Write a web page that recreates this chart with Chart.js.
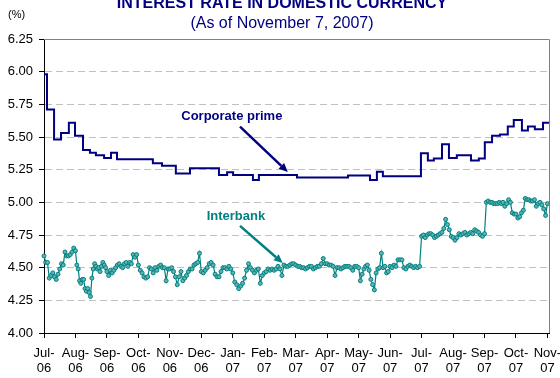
<!DOCTYPE html>
<html>
<head>
<meta charset="utf-8">
<script src="https://cdn.jsdelivr.net/npm/chart.js@4.4.0/dist/chart.umd.min.js"></script>
<style>
  body { margin: 0; background: #fff; }
  #wrap { position: relative; width: 560px; height: 378px; overflow: hidden; font-family: "Liberation Sans", Arial, sans-serif; }
  #wrap canvas { position: absolute; left: 0; top: 0; }
  .title { position: absolute; left: 0; width: 564px; text-align: center; color: #000080; line-height: 1; white-space: nowrap; }
  #mainTitle { top: -5.5px; font-size: 16px; font-weight: bold; }
  #subTitle { top: 15px; font-size: 16px; }
  #unit { position: absolute; left: 8px; top: 9px; font-size: 11px; line-height: 1; color: #000; }
</style>
</head>
<body>
<div id="wrap">
  <canvas id="rateChart" width="560" height="378"></canvas>
  <div class="title" id="mainTitle">INTEREST RATE IN DOMESTIC CURRENCY</div>
  <div class="title" id="subTitle">(As of November 7, 2007)</div>
  <div id="unit">(%)</div>
</div>
<script>
// ===== DATA =====
const monthLabels = ["Jul-06", "Aug-06", "Sep-06", "Oct-06", "Nov-06", "Dec-06", "Jan-07", "Feb-07",
    "Mar-07", "Apr-07", "May-07", "Jun-07", "Jul-07", "Aug-07", "Sep-07", "Oct-07", "Nov-07"];

const yTicks = [4.00, 4.25, 4.50, 4.75, 5.00, 5.25, 5.50, 5.75, 6.00, 6.25];

// corporate prime: months since Jul-06 at which the rate changes, and the new rate
const primeMonths = [0, 0.095, 0.32, 0.54, 0.79, 0.985, 1.24, 1.46, 1.65, 1.91, 2.13, 2.32,
    3.46, 3.75, 4.19, 4.64, 5.56, 5.82, 6.01, 6.64, 6.83, 8.04, 9.66, 10.36, 10.58, 10.77,
    11.98, 12.20, 12.39, 12.65, 12.87, 13.12, 13.57, 13.82, 14.01, 14.24, 14.49, 14.74,
    14.93, 15.19, 15.38, 15.60, 15.86, 16.05];
const primeRates = [5.98, 5.71, 5.48, 5.53, 5.61, 5.51, 5.40, 5.38, 5.36, 5.34, 5.38, 5.33,
    5.30, 5.28, 5.22, 5.26, 5.21, 5.23, 5.21, 5.17, 5.21, 5.19, 5.205, 5.17, 5.235, 5.20,
    5.375, 5.32, 5.335, 5.445, 5.34, 5.36, 5.32, 5.335, 5.46, 5.51, 5.52, 5.58,
    5.63, 5.55, 5.58, 5.56, 5.61, 5.61];

// interbank: daily observations, one list per month (Jul-06 .. Nov-07)
const interbankByMonth = [
    [4.59, 4.54, 4.54, 4.42, 4.44, 4.46, 4.43, 4.41, 4.45, 4.49, 4.53, 4.52, 4.62, 4.59, 4.59, 4.60, 4.62, 4.65],
    [4.63, 4.52, 4.49, 4.40, 4.38, 4.41, 4.41, 4.34, 4.32, 4.34, 4.31, 4.28, 4.42, 4.49, 4.53, 4.51, 4.49, 4.50, 4.47, 4.51, 4.54, 4.52, 4.50],
    [4.47, 4.44, 4.48, 4.46, 4.48, 4.50, 4.52, 4.53, 4.51, 4.50, 4.53, 4.54, 4.51, 4.54, 4.53, 4.60, 4.58, 4.60],
    [4.52, 4.48, 4.46, 4.43, 4.42, 4.43, 4.50, 4.49, 4.46, 4.50, 4.48, 4.51, 4.52, 4.50, 4.50, 4.40, 4.49],
    [4.49, 4.50, 4.47, 4.43, 4.37, 4.43, 4.47, 4.40, 4.42, 4.44, 4.47, 4.49, 4.49, 4.52, 4.53, 4.54, 4.61],
    [4.47, 4.46, 4.48, 4.50, 4.53, 4.54, 4.52, 4.45, 4.43, 4.43, 4.47, 4.50, 4.50, 4.49, 4.51, 4.49],
    [4.46, 4.39, 4.37, 4.34, 4.36, 4.38, 4.42, 4.48, 4.53, 4.50, 4.48, 4.46, 4.48, 4.49, 4.38, 4.44],
    [4.46, 4.47, 4.49, 4.48, 4.49, 4.48, 4.49, 4.51, 4.49, 4.44, 4.52, 4.51, 4.51, 4.52, 4.53, 4.53],
    [4.52, 4.51, 4.51, 4.50, 4.50, 4.49, 4.50, 4.51, 4.51, 4.49, 4.50, 4.51, 4.51, 4.53, 4.57, 4.53],
    [4.53, 4.52, 4.52, 4.51, 4.44, 4.50, 4.50, 4.49, 4.50, 4.51, 4.51, 4.51, 4.50, 4.48, 4.51, 4.51],
    [4.50, 4.40, 4.45, 4.49, 4.51, 4.52, 4.48, 4.41, 4.37, 4.33, 4.46, 4.49, 4.50, 4.61, 4.50, 4.51, 4.46, 4.47],
    [4.51, 4.50, 4.52, 4.51, 4.56, 4.56, 4.56, 4.50, 4.49, 4.51, 4.52, 4.51, 4.50, 4.51, 4.50, 4.51],
    [4.74, 4.75, 4.73, 4.75, 4.76, 4.76, 4.75, 4.73, 4.74, 4.75, 4.76, 4.77, 4.80, 4.87, 4.83, 4.79, 4.74],
    [4.73, 4.71, 4.73, 4.76, 4.75, 4.76, 4.77, 4.75, 4.76, 4.77, 4.76, 4.79, 4.78, 4.77, 4.75, 4.74],
    [4.76, 5.00, 5.01, 5.00, 5.00, 4.99, 4.99, 4.99, 5.00, 4.99, 5.00, 4.97, 4.99, 5.02, 5.00, 4.92, 4.91],
    [4.91, 4.88, 4.89, 4.92, 4.94, 5.03, 5.02, 5.02, 5.01, 5.01, 5.02, 4.97, 4.99, 5.00, 4.98, 4.95, 4.90],
    [4.99]
];

// ===== BUILD POINTS =====
const primePoints = primeMonths.map((m, i) => ({ x: m, y: primeRates[i] }));

// spread each month's observations evenly across that month
const interbankPoints = [];
interbankByMonth.forEach((values, month) => {
    values.forEach((v, i) => {
        interbankPoints.push({ x: month + i / values.length, y: v });
    });
});

// ===== LABELS AND ARROWS (in axis units) =====
const notes = [
    { text: "Corporate prime", color: "#000080", at: [5.97, 5.66], from: [6.23, 5.58], to: [7.75, 5.232] },
    { text: "Interbank", color: "#008080", at: [6.1, 4.89], from: [6.23, 4.82], to: [7.59, 4.535] }
];

const FONT = '"Liberation Sans", Arial, sans-serif';

function drawArrow(ctx, x1, y1, x2, y2, color) {
    const ang = Math.atan2(y2 - y1, x2 - x1);
    const head = 9, half = 4;
    const bx = x2 - head * Math.cos(ang);
    const by = y2 - head * Math.sin(ang);
    ctx.strokeStyle = color;
    ctx.lineWidth = 2.5;
    ctx.beginPath();
    ctx.moveTo(x1, y1);
    ctx.lineTo(bx, by);
    ctx.stroke();
    ctx.fillStyle = color;
    ctx.beginPath();
    ctx.moveTo(x2, y2);
    ctx.lineTo(bx + half * Math.sin(ang), by - half * Math.cos(ang));
    ctx.lineTo(bx - half * Math.sin(ang), by + half * Math.cos(ang));
    ctx.closePath();
    ctx.fill();
}

// grey frame on top and right of the plot area
const framePlugin = {
    id: "frame",
    beforeDatasetsDraw(chart) {
        const { ctx, chartArea: a } = chart;
        ctx.save();
        ctx.strokeStyle = "#808080";
        ctx.lineWidth = 1;
        ctx.beginPath();
        ctx.moveTo(a.left, a.top + 0.5);
        ctx.lineTo(a.right + 0.5, a.top + 0.5);
        ctx.lineTo(a.right + 0.5, a.bottom);
        ctx.stroke();
        ctx.restore();
    }
};

const notePlugin = {
    id: "notes",
    afterDatasetsDraw(chart) {
        const { ctx, scales: { x, y } } = chart;
        ctx.save();
        notes.forEach(n => {
            ctx.font = "bold 13px " + FONT;
            ctx.fillStyle = n.color;
            ctx.textAlign = "center";
            ctx.textBaseline = "middle";
            ctx.fillText(n.text, x.getPixelForValue(n.at[0]), y.getPixelForValue(n.at[1]));
            drawArrow(ctx,
                x.getPixelForValue(n.from[0]), y.getPixelForValue(n.from[1]),
                x.getPixelForValue(n.to[0]), y.getPixelForValue(n.to[1]), n.color);
        });
        ctx.restore();
    }
};

// ===== CREATE CHART =====
const ctx = document.getElementById("rateChart").getContext("2d");

new Chart(ctx, {
    type: "line",
    data: {
        datasets: [
            {
                label: "Corporate prime",
                data: primePoints,
                borderColor: "#000080",
                borderWidth: 2,
                stepped: "before",
                pointRadius: 0,
                fill: false,
                clip: false
            },
            {
                label: "Interbank",
                data: interbankPoints,
                borderColor: "#008080",
                borderWidth: 1.2,
                pointRadius: 2,
                pointBorderWidth: 1,
                pointBorderColor: "#008080",
                pointBackgroundColor: "#5fb3b3",
                tension: 0,
                fill: false,
                clip: false
            }
        ]
    },
    options: {
        responsive: false,
        animation: false,
        devicePixelRatio: 1,
        layout: { padding: { top: 39, right: 11, left: 0, bottom: 0 } },
        plugins: {
            legend: { display: false },
            tooltip: { enabled: false },
            title: { display: false }
        },
        scales: {
            x: {
                type: "linear",
                min: 0,
                max: 16.05,
                afterBuildTicks: s => { s.ticks = monthLabels.map((_, i) => ({ value: i })); },
                // the last label may run past the edge, so no extra side padding
                afterFit: s => { s.height = 45; s.paddingLeft = 0; s.paddingRight = 0; },
                ticks: {
                    autoSkip: false,
                    maxRotation: 0,
                    padding: 8,
                    color: "#000",
                    font: { family: FONT, size: 13, lineHeight: 1.15 },
                    callback: (v, i) => {
                        const parts = monthLabels[i].split("-");
                        return [parts[0] + "-", parts[1]];
                    }
                },
                grid: { drawOnChartArea: false, drawTicks: true, tickLength: 5, tickColor: "#000", color: "#000" },
                border: { color: "#000", width: 1 }
            },
            y: {
                min: 4,
                max: 6.25,
                afterBuildTicks: s => { s.ticks = yTicks.map(v => ({ value: v })); },
                afterFit: s => { s.width = 44; s.paddingTop = 0; s.paddingBottom = 0; },
                ticks: {
                    padding: 6,
                    color: "#000",
                    font: { family: FONT, size: 13 },
                    callback: v => v.toFixed(2)
                },
                grid: { color: "#c0c0c0", tickColor: "#000", tickLength: 5 },
                border: { color: "#000", width: 1, dash: [7, 4] }
            }
        }
    },
    plugins: [framePlugin, notePlugin]
});
</script>
</body>
</html>
